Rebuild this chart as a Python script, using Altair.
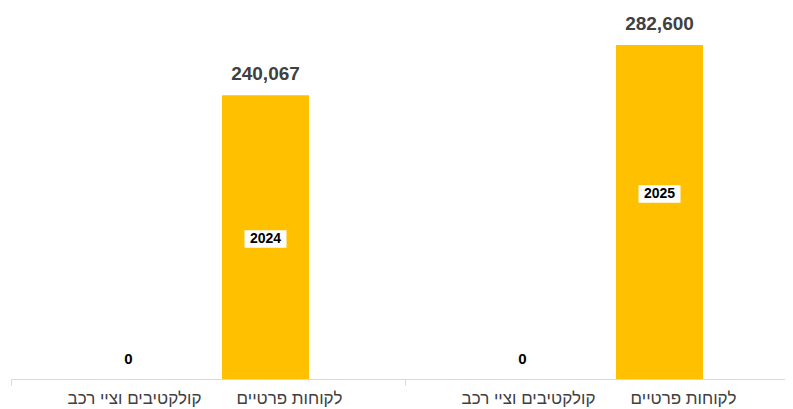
import altair as alt
import pandas as pd

years = ["2024", "2025"]
categories = ["קולקטיבים וציי רכב", "לקוחות פרטיים"]
values_2024 = [0, 240067]
values_2025 = [0, 282600]
year_label_pos = [118500, 156600]

rows = []
for yr, vals in zip(years, [values_2024, values_2025]):
    for cat, v in zip(categories, vals):
        rows.append({"year": yr, "category": cat, "value": v})
df = pd.DataFrame(rows)
ydf = pd.DataFrame({"year": years, "category": [categories[1]] * 2, "pos": year_label_pos})

FONT = "Liberation Sans"
H = 371

xscale = alt.Scale(domain=years, range=[0, 788], paddingInner=0, paddingOuter=0)
xaxis = alt.Axis(title=None, labels=False, ticks=True, tickBand="extent", tickSize=6,
                 tickColor="#d9d9d9", domainColor="#d9d9d9", domainWidth=1.2, grid=False)
offscale = alt.Scale(domain=categories, range=[74, 298], paddingInner=0.365, paddingOuter=0)
yscale = alt.Scale(domain=[0, 314000])

X = alt.X("year:N", scale=xscale, axis=xaxis)
XO = alt.XOffset("category:N", scale=offscale)
Y = alt.Y("value:Q", scale=yscale, axis=None)

base = alt.Chart(df)

bars = base.mark_bar(color="#FFC000").encode(x=X, xOffset=XO, y=Y)

vlabels = base.transform_filter("datum.value > 0").mark_text(
    font=FONT, fontSize=19, fontWeight="bold", color="#404040", baseline="middle", dy=-21
).encode(x=X, xOffset=XO, y=Y, text=alt.Text("value:Q", format=","))

zlabels = base.transform_filter("datum.value == 0").mark_text(
    font=FONT, fontSize=15, fontWeight="bold", color="#000000", baseline="middle", dy=-20
).encode(x=X, xOffset=XO, y=Y, text=alt.Text("value:Q", format=","))

box_shape = "M-1,-0.42L1,-0.42L1,0.42L-1,0.42Z"
boxes = alt.Chart(ydf).mark_point(shape=box_shape, filled=True, fill="white", opacity=1,
                                  strokeWidth=0, size=1764).encode(
    x=X, xOffset=XO, y=alt.Y("pos:Q", scale=yscale, axis=None))

ytext = alt.Chart(ydf).mark_text(font=FONT, fontSize=14, fontWeight="bold", color="#000000",
                                 baseline="middle").encode(
    x=X, xOffset=XO, y=alt.Y("pos:Q", scale=yscale, axis=None), text="year:N")

cat_lab1 = base.transform_filter(alt.datum.category == categories[0]).mark_text(
    font=FONT, fontSize=17, color="#404040", baseline="alphabetic", dx=6
).encode(x=X, xOffset=XO, y=alt.value(H + 25), text="category:N")

cat_lab2 = base.transform_filter(alt.datum.category == categories[1]).mark_text(
    font=FONT, fontSize=17, color="#404040", baseline="alphabetic", dx=24
).encode(x=X, xOffset=XO, y=alt.value(H + 25), text="category:N")

chart = alt.layer(bars, vlabels, zlabels, boxes, ytext, cat_lab1, cat_lab2).properties(
    width=774, height=H,
    autosize=alt.AutoSizeParams(type="none"),
    padding={"left": 3, "top": 0, "right": 0, "bottom": 30},
    background="white",
).configure_view(stroke=None)

chart.save("out.html", embed_options={"renderer": "svg", "actions": False})
